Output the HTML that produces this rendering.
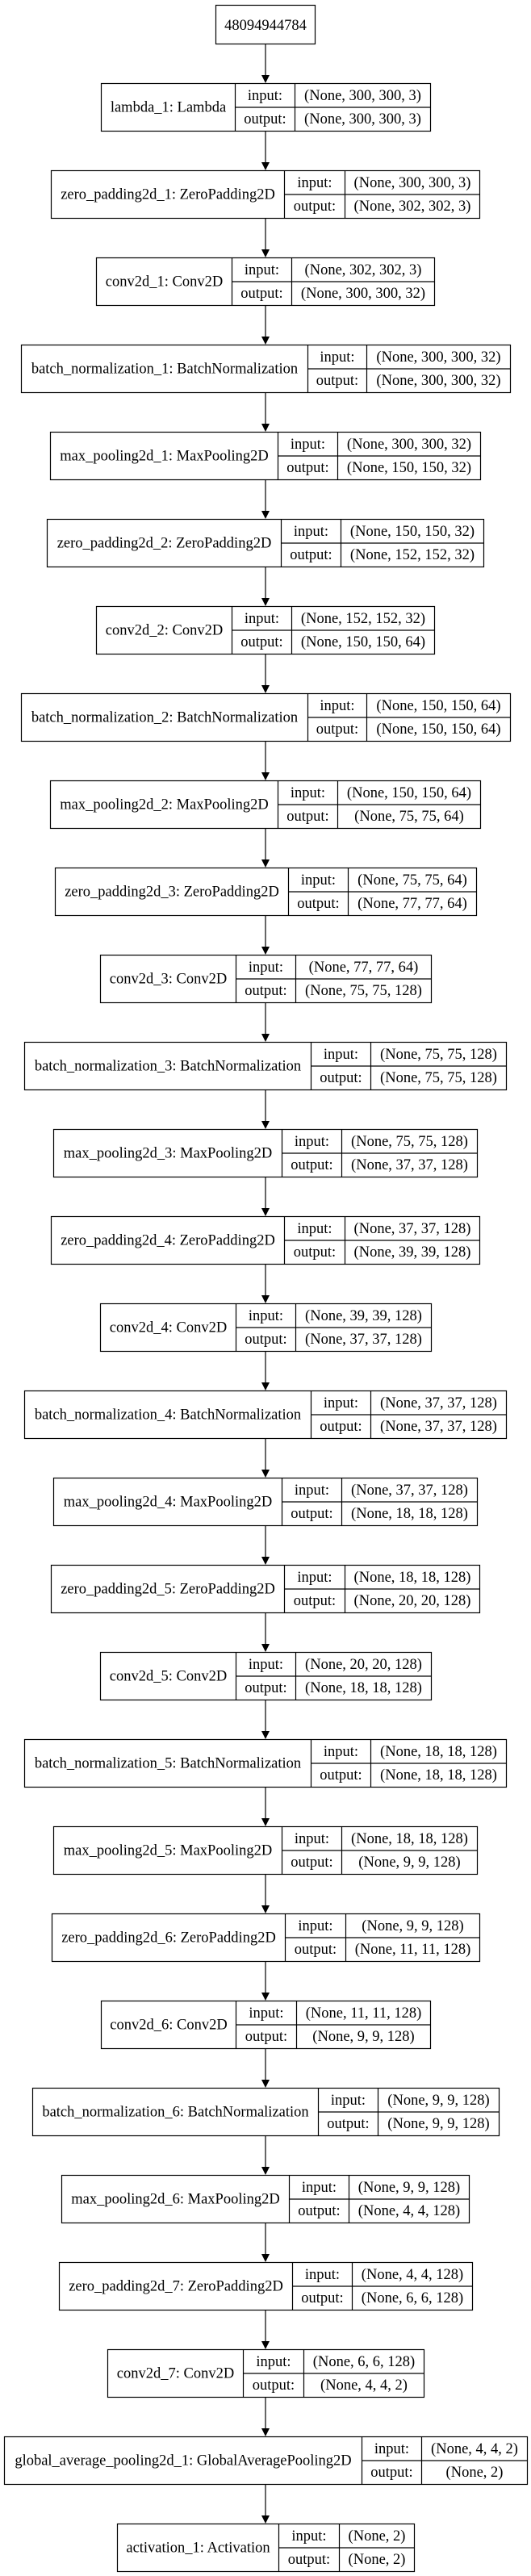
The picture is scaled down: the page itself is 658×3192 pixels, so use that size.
<!DOCTYPE html>
<html><head><meta charset="utf-8"><style>
html,body{margin:0;padding:0;background:#fff;}
svg{display:block;}
text{font-family:"Liberation Serif","Times New Roman",serif;font-size:18.5px;fill:#000;}
</style></head><body>
<svg id="s" width="658" height="3192" viewBox="0 0 658 3192" xmlns="http://www.w3.org/2000/svg">
<rect x="267.5" y="6.5" width="123" height="48" fill="#fff" stroke="#000" stroke-width="1.2"/>
<text x="329" y="37" text-anchor="middle">48094944784</text>
<line x1="329" y1="55" x2="329" y2="94" stroke="#000" stroke-width="1.2"/>
<polygon points="324,93 334,93 329,103" fill="#000"/>
<g id="g"></g>
</svg>
<script>
var L=[
["lambda_1: Lambda","(None, 300, 300, 3)","(None, 300, 300, 3)",125,291,365,533],
["zero_padding2d_1: ZeroPadding2D","(None, 300, 300, 3)","(None, 302, 302, 3)",63,352,427,594],
["conv2d_1: Conv2D","(None, 302, 302, 3)","(None, 300, 300, 32)",119,287,361,538],
["batch_normalization_1: BatchNormalization","(None, 300, 300, 32)","(None, 300, 300, 32)",26,381,454,632],
["max_pooling2d_1: MaxPooling2D","(None, 300, 300, 32)","(None, 150, 150, 32)",62,344,418,595],
["zero_padding2d_2: ZeroPadding2D","(None, 150, 150, 32)","(None, 152, 152, 32)",58,348,422,599],
["conv2d_2: Conv2D","(None, 152, 152, 32)","(None, 150, 150, 64)",119,287,361,538],
["batch_normalization_2: BatchNormalization","(None, 150, 150, 64)","(None, 150, 150, 64)",26,381,454,632],
["max_pooling2d_2: MaxPooling2D","(None, 150, 150, 64)","(None, 75, 75, 64)",62,344,418,595],
["zero_padding2d_3: ZeroPadding2D","(None, 75, 75, 64)","(None, 77, 77, 64)",68,357,431,590],
["conv2d_3: Conv2D","(None, 77, 77, 64)","(None, 75, 75, 128)",124,292,366,534],
["batch_normalization_3: BatchNormalization","(None, 75, 75, 128)","(None, 75, 75, 128)",30,385,459,627],
["max_pooling2d_3: MaxPooling2D","(None, 75, 75, 128)","(None, 37, 37, 128)",66,349,423,591],
["zero_padding2d_4: ZeroPadding2D","(None, 37, 37, 128)","(None, 39, 39, 128)",63,352,427,594],
["conv2d_4: Conv2D","(None, 39, 39, 128)","(None, 37, 37, 128)",124,292,366,534],
["batch_normalization_4: BatchNormalization","(None, 37, 37, 128)","(None, 37, 37, 128)",30,385,459,627],
["max_pooling2d_4: MaxPooling2D","(None, 37, 37, 128)","(None, 18, 18, 128)",66,349,423,591],
["zero_padding2d_5: ZeroPadding2D","(None, 18, 18, 128)","(None, 20, 20, 128)",63,352,427,594],
["conv2d_5: Conv2D","(None, 20, 20, 128)","(None, 18, 18, 128)",124,292,366,534],
["batch_normalization_5: BatchNormalization","(None, 18, 18, 128)","(None, 18, 18, 128)",30,385,459,627],
["max_pooling2d_5: MaxPooling2D","(None, 18, 18, 128)","(None, 9, 9, 128)",66,349,423,591],
["zero_padding2d_6: ZeroPadding2D","(None, 9, 9, 128)","(None, 11, 11, 128)",64,353,428,594],
["conv2d_6: Conv2D","(None, 11, 11, 128)","(None, 9, 9, 128)",125,292,367,533],
["batch_normalization_6: BatchNormalization","(None, 9, 9, 128)","(None, 9, 9, 128)",40,394,468,618],
["max_pooling2d_6: MaxPooling2D","(None, 9, 9, 128)","(None, 4, 4, 128)",76,358,432,581],
["zero_padding2d_7: ZeroPadding2D","(None, 4, 4, 128)","(None, 6, 6, 128)",73,362,436,585],
["conv2d_7: Conv2D","(None, 6, 6, 128)","(None, 4, 4, 2)",133,301,376,525],
["global_average_pooling2d_1: GlobalAveragePooling2D","(None, 4, 4, 2)","(None, 2)",5,448,522,653],
["activation_1: Activation","(None, 2)","(None, 2)",145,345,420,513]
];
var h="";
for(var k=0;k<L.length;k++){
 var d=L[k],t=103+108*k,b=t+59,m=t+29.5;
 var a=d[3]+0.5,p=d[4]+0.5,q=d[5]+0.5,r=d[6]+0.5;
 h+='<rect x="'+a+'" y="'+(t+0.5)+'" width="'+(r-a)+'" height="59" fill="#fff" stroke="#000" stroke-width="1.2"/>';
 h+='<line x1="'+p+'" y1="'+t+'" x2="'+p+'" y2="'+b+'" stroke="#000" stroke-width="1.2"/>';
 h+='<line x1="'+q+'" y1="'+t+'" x2="'+q+'" y2="'+b+'" stroke="#000" stroke-width="1.2"/>';
 h+='<line x1="'+p+'" y1="'+(m+0.5)+'" x2="'+r+'" y2="'+(m+0.5)+'" stroke="#000" stroke-width="1.2"/>';
 h+='<text x="'+((a+p)/2)+'" y="'+(m+6)+'" text-anchor="middle">'+d[0]+'</text>';
 h+='<text x="'+((p+q)/2)+'" y="'+(t+21)+'" text-anchor="middle">input:</text>';
 h+='<text x="'+((p+q)/2)+'" y="'+(t+50)+'" text-anchor="middle">output:</text>';
 h+='<text x="'+((q+r)/2)+'" y="'+(t+21)+'" text-anchor="middle">'+d[1]+'</text>';
 h+='<text x="'+((q+r)/2)+'" y="'+(t+50)+'" text-anchor="middle">'+d[2]+'</text>';
 if(k<L.length-1){
  var nt=t+108;
  h+='<line x1="329" y1="'+(b+1)+'" x2="329" y2="'+(nt-9)+'" stroke="#000" stroke-width="1.2"/>';
  h+='<polygon points="324,'+(nt-10)+' 334,'+(nt-10)+' 329,'+nt+'" fill="#000"/>';
 }
}
document.getElementById("g").innerHTML=h;
</script>
</body></html>
